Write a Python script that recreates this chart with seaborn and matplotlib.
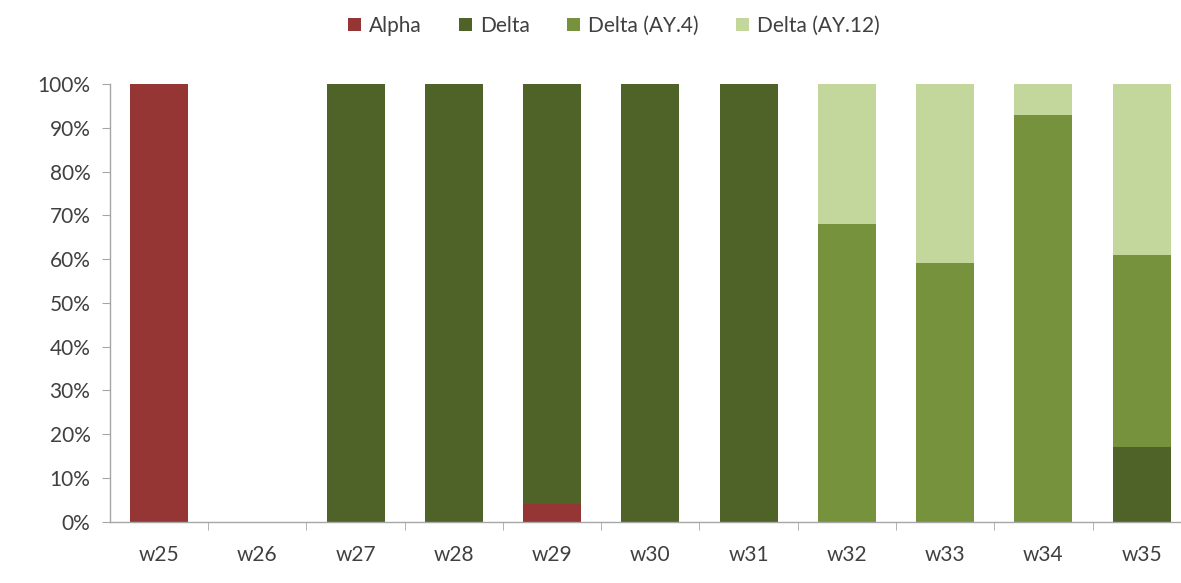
import numpy as np
import pandas as pd
import matplotlib.pyplot as plt
import seaborn as sns
from matplotlib.ticker import PercentFormatter, FixedLocator
from matplotlib.patches import Patch

# Weekly variant shares (percent)
weeks = ["w25", "w26", "w27", "w28", "w29", "w30", "w31", "w32", "w33", "w34", "w35"]
alpha = [100, 0, 0, 0, 4, 0, 0, 0, 0, 0, 0]
delta = [0, 0, 100, 100, 96, 100, 100, 0, 0, 0, 17]
delta_ay4 = [0, 0, 0, 0, 0, 0, 0, 68, 59, 93, 44]
delta_ay12 = [0, 0, 0, 0, 0, 0, 0, 32, 41, 7, 39]

series = ["Alpha", "Delta", "Delta (AY.4)", "Delta (AY.12)"]
colors = ["#963634", "#4f6228", "#76923c", "#c3d69b"]

df = pd.DataFrame({"week": weeks, "Alpha": alpha, "Delta": delta,
                   "Delta (AY.4)": delta_ay4, "Delta (AY.12)": delta_ay12})
cum = df[series].cumsum(axis=1) / 100.0

sns.set_style("white")
plt.rcParams["font.family"] = ["Lato", "DejaVu Sans"]

fig = plt.figure(figsize=(11.81, 5.83), dpi=100)
ax = fig.add_axes([0.093, 0.105, 0.907, 0.751])

# stacked bars: draw the cumulative totals from top layer down
for name, color in reversed(list(zip(series, colors))):
    sns.barplot(x=df["week"], y=cum[name], color=color, width=0.59,
                saturation=1, linewidth=0, edgecolor="none", ax=ax, order=weeks)

ax.set_ylim(0, 1.0)
ax.set_xlim(-0.5, 10.4)
ax.yaxis.set_major_locator(FixedLocator(np.arange(0, 1.01, 0.1)))
ax.yaxis.set_major_formatter(PercentFormatter(1.0, decimals=0))
ax.set_xlabel("")
ax.set_ylabel("")

for side in ["top", "right"]:
    ax.spines[side].set_visible(False)
for side in ["left", "bottom"]:
    ax.spines[side].set_color("#a6a6a6")
    ax.spines[side].set_linewidth(1)

ax.tick_params(axis="y", which="major", left=True, length=6, color="#a6a6a6",
               labelsize=15, labelcolor="#404040", pad=8)
ax.tick_params(axis="x", which="major", length=0, labelsize=15,
               labelcolor="#404040", pad=17)
ax.xaxis.set_minor_locator(FixedLocator(np.arange(0.5, 10.5, 1)))
ax.tick_params(axis="x", which="minor", bottom=True, length=6, color="#a6a6a6")

handles = [Patch(facecolor=c, edgecolor="none", label=s) for s, c in zip(series, colors)]
fig.legend(handles=handles, loc="upper center", bbox_to_anchor=(0.52, 1.005),
           ncol=4, frameon=False, fontsize=15, handlelength=0.6, handleheight=0.6,
           handletextpad=0.4, columnspacing=1.8, labelcolor="#404040")

plt.savefig("out.png", dpi=100)
